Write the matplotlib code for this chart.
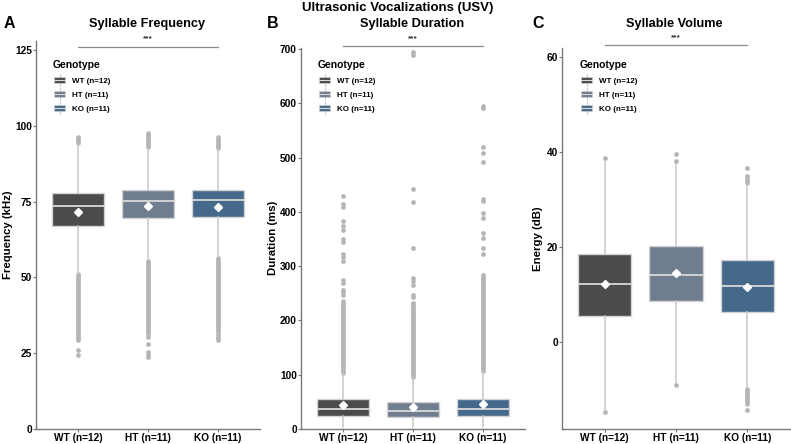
import matplotlib
matplotlib.use("Agg")
import matplotlib.pyplot as plt
from matplotlib.legend_handler import HandlerBase
from matplotlib.lines import Line2D
from matplotlib.patches import Patch, Rectangle

plt.rcParams['font.family'] = ['Liberation Sans', 'DejaVu Sans']
plt.rcParams['font.weight'] = 'bold'

W, H = 791, 444

# ---- data ----
genotypes = ['WT (n=12)', 'HT (n=11)', 'KO (n=11)']
colors = ['#4b4b4b', '#6f7e8e', '#44698a']

# Syllable frequency (kHz)
freq_q1 = [67.1, 69.7, 70.0]
freq_med = [73.5, 75.1, 75.4]
freq_q3 = [77.9, 78.9, 78.9]
freq_mean = [71.6, 73.6, 73.3]
freq_whislo = [51.2, 56.0, 56.8]
freq_whishi = [94.0, 92.8, 92.5]
freq_bands = [[(94.3, 96.3), (29.5, 51.0)],
              [(93.0, 97.8), (31.5, 55.5)],
              [(92.8, 96.3), (32.0, 56.5)]]
freq_fliers = [[26.0, 24.5],
               [30.5, 28.0, 25.3, 24.3, 23.7],
               [31.0, 30.0, 29.5]]

# Syllable duration (ms)
dur_q1 = [24.0, 22.0, 23.3]
dur_med = [37.0, 33.7, 36.8]
dur_q3 = [55.0, 50.3, 55.8]
dur_mean = [43.5, 40.5, 46.6]
dur_whislo = [3.0, 3.0, 3.0]
dur_whishi = [103.0, 94.0, 106.0]
dur_bands = [[(104, 236)], [(95, 228)], [(107, 272)]]
dur_fliers = [[247, 252, 256.5, 270, 275, 310.5, 317, 322, 345.5, 350, 366, 374, 384, 410, 415, 430],
              [232, 244, 247, 266, 272, 278, 333, 418, 442, 690, 695],
              [276, 280, 284, 322, 334, 352, 362, 389, 399, 420, 424, 492, 508, 519, 591, 595]]

# Syllable volume (dB)
vol_q1 = [5.6, 8.7, 6.5]
vol_med = [12.2, 14.1, 11.9]
vol_q3 = [18.7, 20.3, 17.3]
vol_mean = [12.3, 14.5, 11.7]
vol_whislo = [-14.3, -8.5, -9.3]
vol_whishi = [38.5, 37.8, 33.3]
vol_bands = [[], [], [(33.5, 34.3), (-13.0, -9.8)]]
vol_fliers = [[38.8, -14.6], [38.2, 39.7, -8.9], [34.9, 36.7, -14.2]]


def px(x, y):
    return x / W, 1 - y / H


class BoxKeyHandler(HandlerBase):
    def create_artists(self, legend, orig_handle, xdescent, ydescent,
                       width, height, fontsize, trans):
        fc = orig_handle.get_facecolor()
        x0, y0 = -xdescent, -ydescent
        whisk = Line2D([x0 + width / 2] * 2, [y0 - height * 0.3, y0 + height * 1.3],
                       color='#cfcfcf', lw=0.8, transform=trans)
        rect = Rectangle((x0, y0 + height * 0.1), width, height * 0.8,
                         facecolor=fc, edgecolor='#d0d0d0', lw=0.5, transform=trans)
        med = Line2D([x0, x0 + width], [y0 + height / 2] * 2,
                     color='#d8d8d8', lw=0.8, transform=trans)
        return [whisk, rect, med]


def draw_panel(ax, q1, med, q3, mean, whislo, whishi, bands, fliers,
               ylim, yticks, ylabel, label_x, sig_y, star_y, leg_x):
    stats = []
    for i in range(3):
        stats.append(dict(q1=q1[i], med=med[i], q3=q3[i], mean=mean[i],
                          whislo=whislo[i], whishi=whishi[i], fliers=fliers[i]))
    bp = ax.bxp(stats, positions=[1, 2, 3], widths=0.75, patch_artist=True,
                showmeans=True, showcaps=False,
                boxprops=dict(edgecolor='#d3d3d3', linewidth=1.0),
                medianprops=dict(color='#d9d9d9', linewidth=1.3),
                whiskerprops=dict(color='#c8c8c8', linewidth=1.1),
                meanprops=dict(marker='D', markerfacecolor='white',
                               markeredgecolor='white', markersize=3.6),
                flierprops=dict(marker='o', markerfacecolor='#b5b5b5',
                                markeredgecolor='none', markersize=3.4))
    for patch, c in zip(bp['boxes'], colors):
        patch.set_facecolor(c)
        patch.set_zorder(2)
    for ln in bp['medians'] + bp['means']:
        ln.set_zorder(3)
    # dense runs of outliers
    for i, grp in enumerate(bands):
        for lo, hi in grp:
            lc = ax.vlines(i + 1, lo, hi, colors='#b5b5b5', linewidth=3.4, zorder=1.5)
            lc.set_capstyle('round')

    ax.set_xlim(0.4, 3.6)
    ax.set_ylim(*ylim)
    ax.set_yticks(yticks)
    ax.set_xticks([1, 2, 3])
    ax.set_xticklabels(genotypes)
    ax.set_ylabel(ylabel, fontsize=8.2, fontweight='bold')
    ax.yaxis.set_label_coords(label_x, 0.5)
    for s in ['top', 'right']:
        ax.spines[s].set_visible(False)
    for s in ['left', 'bottom']:
        ax.spines[s].set_color('#777777')
        ax.spines[s].set_linewidth(1.0)
    ax.tick_params(length=2, width=0.8, color='#777777', labelsize=7.3,
                   labelcolor='black', pad=1)
    for lab in ax.get_xticklabels() + ax.get_yticklabels():
        lab.set_fontweight('bold')

    # significance bar
    ax.plot([1, 3], [sig_y, sig_y], color='#8a8a8a', lw=0.9, clip_on=False)
    ax.text(2, star_y, '***', ha='center', va='center', fontsize=6,
            color='#333333', clip_on=False)

    # legend
    fig.text(*px(leg_x, 65), 'Genotype', ha='left', va='center',
             fontsize=7.5, fontweight='bold')
    handles = [Patch(facecolor=c) for c in colors]
    ax.legend(handles, genotypes, loc='upper left',
              bbox_to_anchor=px(leg_x + 1, 76.5), bbox_transform=fig.transFigure,
              frameon=False, prop=dict(weight='bold', size=5.8),
              handlelength=1.4, handleheight=1.0, handletextpad=0.8,
              labelspacing=0.68, borderpad=0, borderaxespad=0,
              handler_map={Patch: BoxKeyHandler()})


fig = plt.figure(figsize=(W / 100, H / 100), dpi=100)

axA = fig.add_axes([36 / W, 1 - 429 / H, 224 / W, 388 / H])
draw_panel(axA, freq_q1, freq_med, freq_q3, freq_mean, freq_whislo, freq_whishi,
           freq_bands, freq_fliers, (0, 128), [0, 25, 50, 75, 100, 125],
           'Frequency (kHz)', (13 - 36) / 224, 126.0, 128.8, 53)

axB = fig.add_axes([301 / W, 1 - 429 / H, 224 / W, 381.4 / H])
draw_panel(axB, dur_q1, dur_med, dur_q3, dur_mean, dur_whislo, dur_whishi,
           dur_bands, dur_fliers, (0, 703), list(range(0, 701, 100)),
           'Duration (ms)', (278 - 301) / 224, 706, 720, 318)

axC = fig.add_axes([562 / W, 1 - 429 / H, 228 / W, 381.4 / H])
draw_panel(axC, vol_q1, vol_med, vol_q3, vol_mean, vol_whislo, vol_whishi,
           vol_bands, vol_fliers, (-18.2, 62), [0, 20, 40, 60],
           'Energy (dB)', (543 - 562) / 228, 62.5, 64.0, 580)

# titles
fig.text(*px(398, 8), 'Ultrasonic Vocalizations (USV)', ha='center', va='center',
         fontsize=9.5, fontweight='bold')
for x, t in [(147, 'Syllable Frequency'), (412, 'Syllable Duration'), (674, 'Syllable Volume')]:
    fig.text(*px(x, 24), t, ha='center', va='center', fontsize=9.2, fontweight='bold')
for x, t in [(4, 'A'), (267, 'B'), (532, 'C')]:
    fig.text(*px(x, 23), t, ha='left', va='center', fontsize=11.5, fontweight='bold')

fig.savefig('out.png', dpi=100)
